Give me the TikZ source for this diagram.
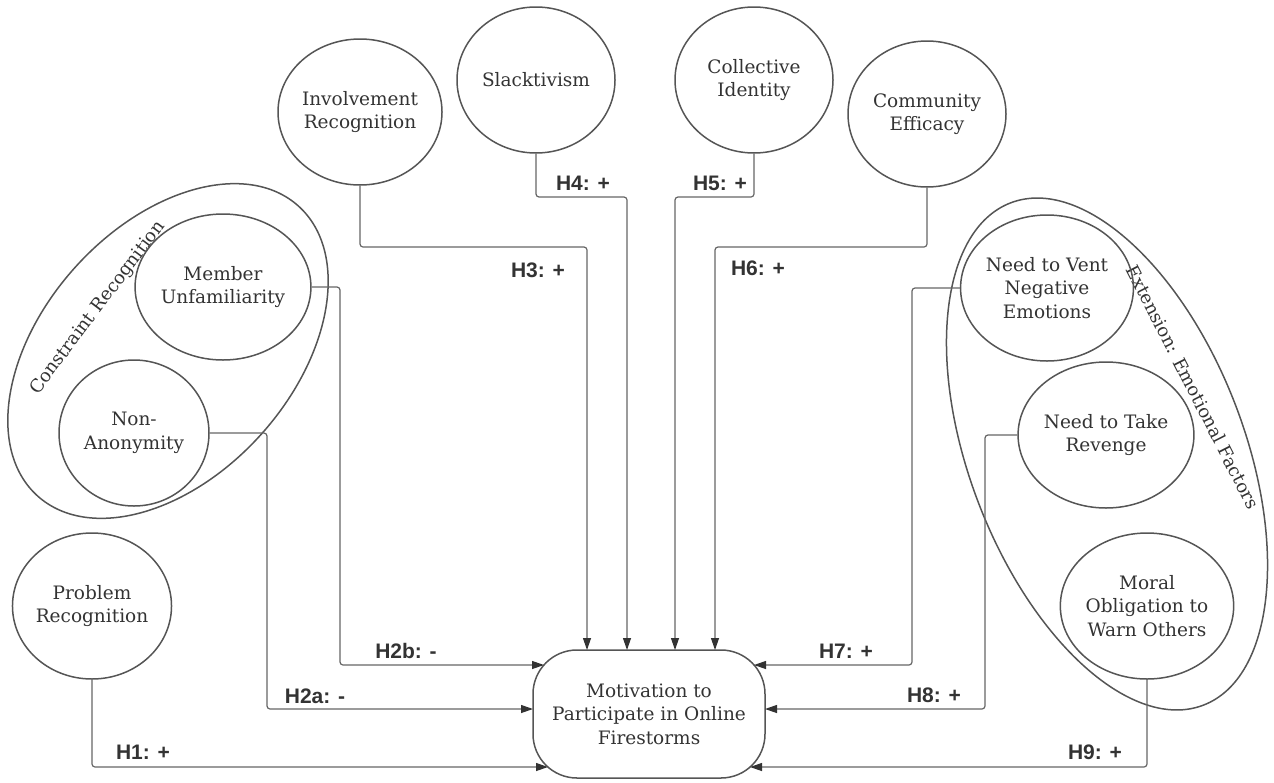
\documentclass[tikz,border=0pt]{standalone}
\usepackage{fontspec}
\setmainfont{DejaVu Serif}
\newfontfamily\lblfont{Liberation Sans}
\usetikzlibrary{arrows.meta,shapes.geometric}
\definecolor{ln}{HTML}{555555}
\definecolor{cn}{HTML}{666666}
\definecolor{tx}{HTML}{333333}
\begin{document}
\begin{tikzpicture}[x=1pt,y=-1pt,
  every node/.style={text=tx},
  circ/.style={draw=ln, line width=1.5pt, ellipse, inner sep=0pt, align=center,
    minimum width=150pt, minimum height=146pt, font=\fontsize{18.5}{23.5}\selectfont},
  wide/.style={minimum width=158pt},
  grp/.style={draw=ln, line width=1.5pt, ellipse, inner sep=0pt},
  conn/.style={draw=cn, line width=1.2pt, rounded corners=3pt, -{Triangle[length=12pt,width=8pt,color=tx]}},
  hl/.style={font=\lblfont\bfseries\fontsize{21}{24}\selectfont},
  glbl/.style={font=\fontsize{18}{21}\selectfont}
]
\useasboundingbox (0,0) rectangle (1274,782);

% group ellipses
\node[grp, minimum width=390pt, minimum height=250pt, rotate=48] (cgrp) at (168,351) {};
\node[grp, minimum width=538pt, minimum height=275pt, rotate=-69] (egrp) at (1107,454) {};
\node[glbl, rotate=53] (clbl) at (98,308) {Constraint Recognition};
\node[glbl, rotate=-63] (elbl) at (1193,387) {Extension: Emotional Factors};

% circles
\node[circ, wide] (inv) at (360,112) {Involvement\\Recognition};
\node[circ, wide] (slack) at (536,80) {Slacktivism};
\node[circ, wide] (coll) at (754,80) {Collective\\Identity};
\node[circ, wide] (comm) at (927,114) {Community\\Efficacy};
\node[circ] (memb) at (223,287) {Member\\Unfamiliarity};
\node[circ] (nona) at (134,433) {Non-\\Anonymity};
\node[circ] (prob) at (92,606) {Problem\\Recognition};
\node[circ, minimum width=157pt] (vent) at (1047,288) {Need to Vent\\Negative\\Emotions};
\node[circ, minimum width=157pt] (rev) at (1106,435) {Need to Take\\Revenge};
\node[circ] (moral) at (1147,606) {Moral\\Obligation to\\Warn Others};

% target
\node[draw=ln, line width=1.5pt, rounded corners=44pt, minimum width=232pt, minimum height=128pt,
  inner sep=0pt, align=center, font=\fontsize{18.5}{23.5}\selectfont] (mot) at (649,714)
  {Motivation to\\Participate in Online\\Firestorms};

% arrow end points on the target
\coordinate (mT1) at (587,650);
\coordinate (mT2) at (627,650);
\coordinate (mT3) at (675,650);
\coordinate (mT4) at (715,650);
\coordinate (mL1) at (544,665);
\coordinate (mL2) at (533,709);
\coordinate (mL3) at (548,767);
\coordinate (mR1) at (754,665);
\coordinate (mR2) at (765,709);
\coordinate (mR3) at (750,767);

% connectors
\draw[conn] (prob.south) -- (92,767) -- (mL3);
\draw[conn] (nona.east) -- (267,433) -- (267,709) -- (mL2);
\draw[conn] (memb.east) -- (340,287) -- (340,665) -- (mL1);
\draw[conn] (inv.south) -- (360,247) -- (587,247) -- (mT1);
\draw[conn] (slack.south) -- (536,197) -- (627,197) -- (mT2);
\draw[conn] (coll.south) -- (754,197) -- (675,197) -- (mT3);
\draw[conn] (comm.south) -- (927,247) -- (715,247) -- (mT4);
\draw[conn] (vent.west) -- (912,288) -- (912,665) -- (mR1);
\draw[conn] (rev.west) -- (985,435) -- (985,709) -- (mR2);
\draw[conn] (moral.south) -- (1147,767) -- (mR3);

% labels
\node[hl] (h1) at (143,752) {H1: +};
\node[hl] (h2a) at (315,696) {H2a: -};
\node[hl] (h2b) at (406,651) {H2b: -};
\node[hl] (h3) at (538,270) {H3: +};
\node[hl] (h4) at (583,183) {H4: +};
\node[hl] (h5) at (720,183) {H5: +};
\node[hl] (h6) at (758,268) {H6: +};
\node[hl] (h7) at (846,651) {H7: +};
\node[hl] (h8) at (934,695) {H8: +};
\node[hl] (h9) at (1095,752) {H9: +};
\end{tikzpicture}
\end{document}
